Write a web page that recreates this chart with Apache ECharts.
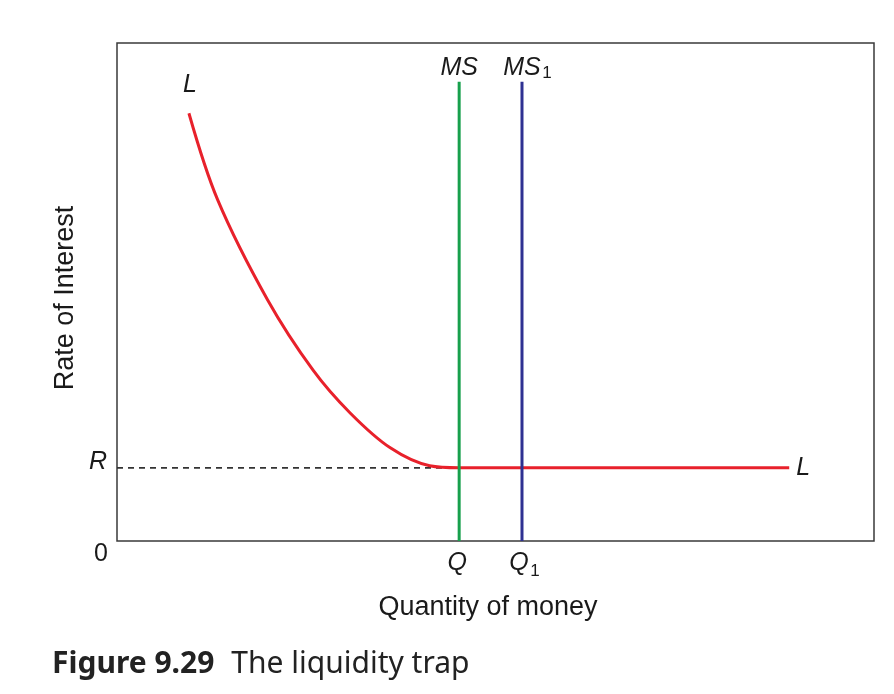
<!DOCTYPE html>
<html>
<head>
<meta charset="utf-8">
<script src="https://cdn.jsdelivr.net/npm/echarts@6/dist/echarts.min.js"></script>
<style>
html,body{margin:0;padding:0;background:#fff;}
#chart{width:894px;height:694px;}
</style>
</head>
<body>
<div id="chart"></div>
<script>
// Liquidity preference curve L (quantity of money, rate of interest)
const curveX = [9.5, 13.3, 19.9, 25.9, 30.8, 36.1, 41.3, 45.2, 88.8];
const curveY = [85.9, 68.5, 48.4, 34.3, 25.7, 18.7, 15.1, 14.7, 14.7];
// Money supply lines
const msQ = 45.2;      // MS  -> Q
const ms1Q = 53.5;     // MS1 -> Q1
const msTop = 92.2;
const rateR = 14.7;    // R
const xTitle = 'Quantity of money';
const yTitle = 'Rate of Interest';
const captionBold = 'Figure 9.29';
const captionText = 'The liquidity trap';

const chart = echarts.init(document.getElementById('chart'), null, {renderer: 'canvas'});
const GRID = {left: 117, top: 43, width: 757, height: 498};
const LBL = 'italic 25px "Liberation Sans", Arial, sans-serif';
const SUB = '17px "Liberation Sans", Arial, sans-serif';
const TITLE = '27px "Liberation Sans", Arial, sans-serif';

const pts = curveX.map((x, i) => [x, curveY[i]]);
const n = pts.length;

chart.setOption({
  animation: false,
  grid: Object.assign({show: true, borderColor: '#3a3a3a', borderWidth: 1.5, backgroundColor: '#fff'}, GRID),
  xAxis: {type: 'value', min: 0, max: 100, show: false},
  yAxis: {type: 'value', min: 0, max: 100, show: false},
  series: [
    {
      type: 'line', symbol: 'none',
      data: [[0, rateR], [msQ, rateR]],
      lineStyle: {color: '#333', width: 1.8, type: [6, 5]}, z: 1
    },
    {
      type: 'line', symbol: 'none', smooth: 0.35,
      data: pts.slice(0, n - 1),
      lineStyle: {color: '#e8212b', width: 3}, z: 3
    },
    {
      type: 'line', symbol: 'none',
      data: pts.slice(n - 2),
      lineStyle: {color: '#e8212b', width: 3}, z: 3
    },
    {
      type: 'line', symbol: 'none',
      data: [[msQ, 0], [msQ, msTop]],
      lineStyle: {color: '#17a04c', width: 3}, z: 4
    },
    {
      type: 'line', symbol: 'none',
      data: [[ms1Q, 0], [ms1Q, msTop]],
      lineStyle: {color: '#2e3192', width: 3}, z: 4
    }
  ]
});

const px = (x, y) => chart.convertToPixel({gridIndex: 0}, [x, y]);
const pStart = px(curveX[0], curveY[0]);
const pEnd = px(curveX[n - 1], curveY[n - 1]);
const pMS = px(msQ, msTop);
const pMS1 = px(ms1Q, msTop);
const pQ = px(msQ, 0);
const pQ1 = px(ms1Q, 0);
const pR = px(0, rateR);
const pO = px(0, 0);

function t(text, x, y, font, align, valign) {
  return {type: 'text', style: {text: text, x: x, y: y, font: font, fill: '#1a1a1a', textAlign: align || 'center', textVerticalAlign: valign || 'middle'}};
}

chart.setOption({
  graphic: [
    t('L', pStart[0] + 1, pStart[1] - 28, LBL),
    t('L', pEnd[0] + 7, pEnd[1], LBL, 'left'),
    t('MS', pMS[0], pMS[1] - 14, LBL),
    t('MS', pMS1[0], pMS1[1] - 14, LBL),
    t('1', pMS1[0] + 25, pMS1[1] - 9, SUB, 'center'),
    t('R', pR[0] - 10, pR[1] - 6, LBL, 'right'),
    t('0', pO[0] - 16, pO[1] + 13, '25px "Liberation Sans", Arial, sans-serif'),
    t('Q', pQ[0] - 2, pQ[1] + 22, LBL),
    t('Q', pQ1[0] - 3, pQ1[1] + 22, LBL),
    t('1', pQ1[0] + 13, pQ1[1] + 30, SUB),
    t(xTitle, 488, 608, TITLE),
    {type: 'text', x: 66, y: 298, rotation: Math.PI / 2,
      style: {text: yTitle, x: 0, y: 0, font: TITLE, fill: '#1a1a1a', textAlign: 'center', textVerticalAlign: 'middle'}},
    {type: 'text', left: 52, top: 649,
      style: {text: '{b|' + captionBold + '}{g|}{r|' + captionText + '}', rich: {
        b: {font: 'bold 30px "Noto Sans", sans-serif', fill: '#222'},
        g: {width: 17},
        r: {font: '30px "Noto Sans", sans-serif', fill: '#222'}
      }}}
  ]
});
</script>
</body>
</html>
